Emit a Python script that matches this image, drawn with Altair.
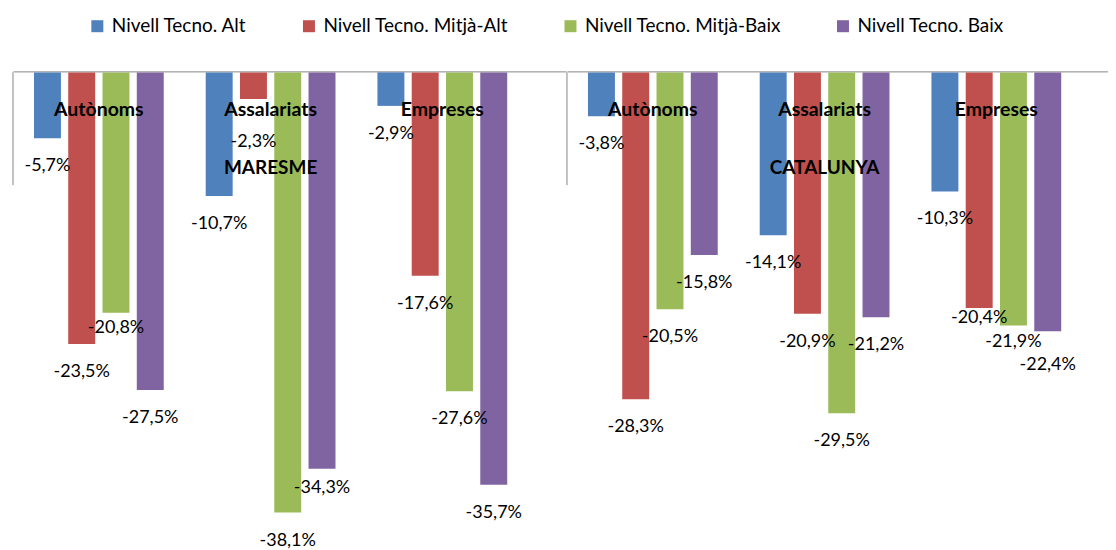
import altair as alt
import pandas as pd

regions = ["MARESME", "CATALUNYA"]
groups = ["Autònoms", "Assalariats", "Empreses"]
series = ["Nivell Tecno. Alt", "Nivell Tecno. Mitjà-Alt", "Nivell Tecno. Mitjà-Baix", "Nivell Tecno. Baix"]
colors = ["#4F81BD", "#C0504D", "#9BBB59", "#8064A2"]

# order: MARESME (Autònoms, Assalariats, Empreses), CATALUNYA (Autònoms, Assalariats, Empreses)
alt_vals = [-5.7, -10.7, -2.9, -3.8, -14.1, -10.3]
mitja_alt_vals = [-23.5, -2.3, -17.6, -28.3, -20.9, -20.4]
mitja_baix_vals = [-20.8, -38.1, -27.6, -20.5, -29.5, -21.9]
baix_vals = [-27.5, -34.3, -35.7, -15.8, -21.2, -22.4]

# label distance below bar end (pixels); a few labels were moved by hand in the original
LABEL_DY = 28
label_dy_override = {
    ("MARESME", "Assalariats", series[1]): 43,
    ("MARESME", "Autònoms", series[2]): 15,
    ("MARESME", "Assalariats", series[3]): 19,
    ("CATALUNYA", "Empreses", series[1]): 10,
    ("CATALUNYA", "Empreses", series[2]): 17,
    ("CATALUNYA", "Empreses", series[3]): 34,
}

rows = []
for s, vals in zip(series, [alt_vals, mitja_alt_vals, mitja_baix_vals, baix_vals]):
    i = 0
    for r in regions:
        for g in groups:
            v = vals[i]
            rows.append({"region": r, "group": g, "series": s, "value": v,
                         "label": f"{v:.1f}".replace(".", ",") + "%",
                         "ldy": label_dy_override.get((r, g, s), LABEL_DY)})
            i += 1
df = pd.DataFrame(rows)

FONT = "Lato"

x_enc = alt.X("group:N", sort=groups,
              scale=alt.Scale(paddingInner=0, paddingOuter=0.11, align=0),
              axis=alt.Axis(orient="top", labels=False, ticks=False, title=None,
                            grid=False, domainColor="#868686", domainWidth=1))
xo_enc = alt.XOffset("series:N", sort=series,
                     scale=alt.Scale(paddingInner=0.2136, paddingOuter=0.612))
y_enc = alt.Y("value:Q", scale=alt.Scale(domain=[-40, 0], nice=False), axis=None)

base = alt.Chart()

bars = base.mark_bar().encode(
    x=x_enc, xOffset=xo_enc, y=y_enc,
    color=alt.Color("series:N", sort=series,
                    scale=alt.Scale(domain=series, range=colors),
                    legend=alt.Legend(title=None, orient="none", legendX=75, legendY=-56,
                                      direction="horizontal", symbolType="square",
                                      symbolSize=144, symbolStrokeWidth=0,
                                      labelFont=FONT, labelFontSize=19, labelColor="#000",
                                      labelLimit=0, columnPadding=52, labelOffset=5)),
)

label_layers = []
for d in sorted(set(df["ldy"])):
    label_layers.append(
        base.transform_filter(alt.datum.ldy == int(d)).mark_text(
            font=FONT, fontSize=18, color="#000", dy=int(d)
        ).encode(x=x_enc, xOffset=xo_enc, y=y_enc, text="label:N")
    )

grp = base.transform_filter(alt.datum.series == series[0]).mark_text(
    font=FONT, fontSize=19.5, fontWeight="bold", color="#000", baseline="middle"
).encode(x=alt.X("group:N", sort=groups), y=alt.value(38), text="group:N")

reg = base.transform_filter(
    (alt.datum.series == series[0]) & (alt.datum.group == groups[1])
).mark_text(
    font=FONT, fontSize=19, fontWeight="bold", color="#000", baseline="middle"
).encode(x=alt.X("group:N", sort=groups), y=alt.value(96), text="region:N")

sep = base.transform_filter(
    (alt.datum.series == series[0]) & (alt.datum.group == groups[0])
).mark_rule(color="#868686", strokeWidth=1).encode(
    x=alt.value(0), y=alt.value(0), y2=alt.value(113)
)

layered = alt.layer(bars, *label_layers, grp, reg, sep, data=df).properties(width=554, height=463)

chart = layered.facet(
    column=alt.Column("region:N", sort=regions, header=alt.Header(labels=False), title=None),
    spacing=0,
).properties(
    padding={"left": 4, "top": 8, "right": -12, "bottom": 0}
).configure_view(stroke=None)

chart.save("out.html", embed_options={"renderer": "svg", "actions": False})
